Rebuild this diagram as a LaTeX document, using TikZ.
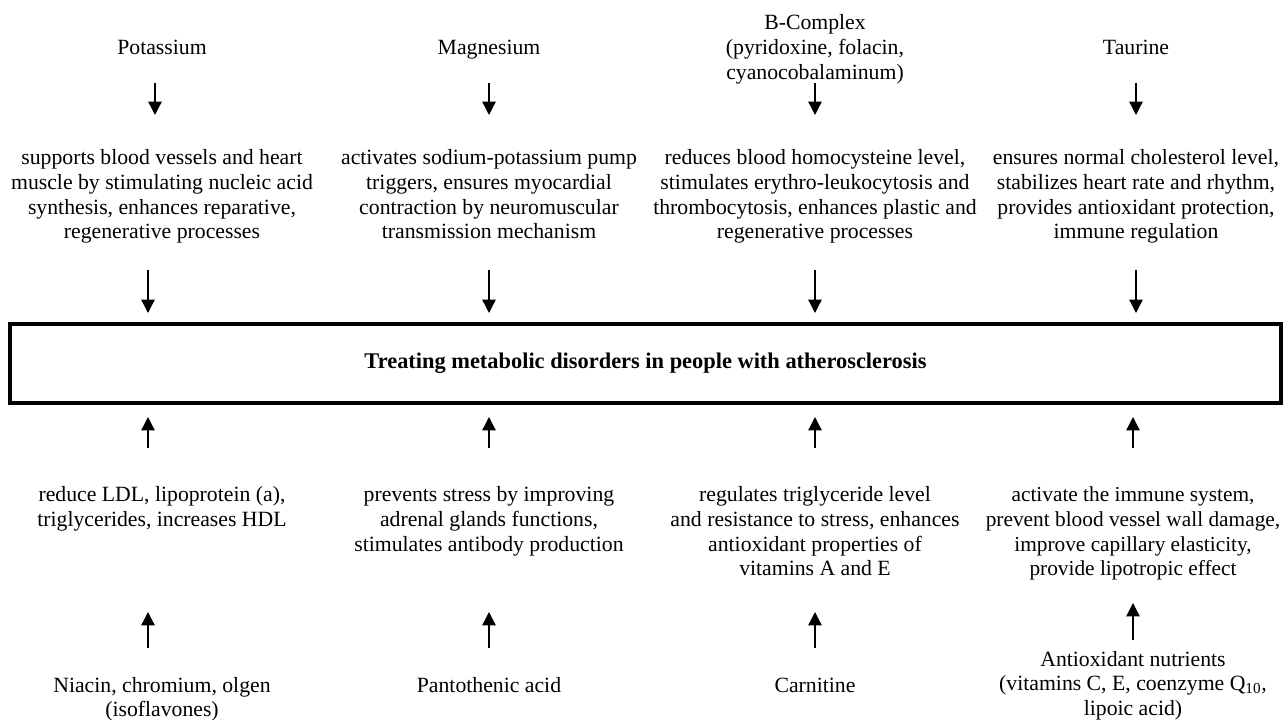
\documentclass[tikz,border=0pt]{standalone}
\usepackage{fontspec}
\setmainfont{Liberation Serif}
\usetikzlibrary{arrows.meta}

\tikzset{
  txt/.style={inner sep=0pt, outer sep=0pt, align=flush center, font=\fontsize{16.3}{18.4}\selectfont},
  para/.style={txt, text width=255pt},
  source/.style={para, anchor=south, text height=20pt, text depth=21pt},
  effect/.style={para, anchor=north, text height=37.5pt, text depth=78.75pt},
  benefit/.style={para, anchor=north, text height=40.5pt, text depth=82.5pt},
  nutrient/.style={para, anchor=north, text height=33pt, text depth=30pt},
  arr/.style={-{Triangle[width=10pt,length=10pt]}, line width=1pt},
}

\begin{document}
\begin{tikzpicture}[x=0.75pt, y=-0.75pt]
    \useasboundingbox (0,0) rectangle (1283,720);

    % upper sources
    \node[source] (kal) at (162,83) {Potassium};
    \node[source] (mag) at (489,83) {Magnesium};
    \node[source, text depth=39.75pt] (bcx) at (815,83) {B-Complex\\(pyridoxine, folacin,\\cyanocobalaminum)};
    \node[source] (tau) at (1136,83) {Taurine};

    % what they do
    \node[effect] (kalfx) at (162,115) {supports blood vessels and heart\\muscle by stimulating nucleic acid\\synthesis, enhances reparative,\\regenerative processes};
    \node[effect] (magfx) at (489,115) {activates sodium-potassium pump\\triggers, ensures myocardial\\contraction by neuromuscular\\transmission mechanism};
    \node[effect] (bcxfx) at (815,115) {reduces blood homocysteine level,\\stimulates erythro-leukocytosis and\\thrombocytosis, enhances plastic and\\regenerative processes};
    \node[effect] (taufx) at (1136,115) {ensures normal cholesterol level,\\stabilizes heart rate and rhythm,\\provides antioxidant protection,\\immune regulation};

    % the goal in the middle
    \node[draw, line width=3pt, inner sep=0pt, minimum width=953.25pt, minimum height=59.25pt,
          font=\fontsize{16.8}{18.4}\selectfont\bfseries] (goal) at (645.5,363.5)
          {Treating metabolic disorders in people with atherosclerosis};

    % lower effects
    \node[benefit] (ldl) at (162,448) {reduce LDL, lipoprotein (a),\\triglycerides, increases HDL};
    \node[benefit] (str) at (489,448) {prevents stress by improving\\adrenal glands functions,\\stimulates antibody production};
    \node[benefit] (tgl) at (815,448) {regulates triglyceride level\\and resistance to stress, enhances\\antioxidant properties of\\vitamins A and E};
    \node[benefit, text depth=75.75pt, font=\fontsize{16}{18.4}\selectfont] (imm) at (1133,448) {activate the immune system,\\prevent blood vessel wall damage,\\improve capillary elasticity,\\provide lipotropic effect};

    % lower sources
    \node[nutrient] (nia) at (162,648) {Niacin, chromium, olgen\\(isoflavones)};
    \node[nutrient] (pan) at (489,648) {Pantothenic acid};
    \node[nutrient] (car) at (815,648) {Carnitine};
    \node[nutrient, text height=19.5pt] (aox) at (1133,640) {Antioxidant nutrients\\(vitamins C, E, coenzyme Q\textsubscript{10},\\lipoic acid)};

    % arrows down
    \draw[arr] ([xshift=-5.25pt]kal.south) -- ([xshift=-5.25pt]kalfx.north);
    \draw[arr] (mag.south) -- (magfx.north);
    \draw[arr] (bcx.south) -- (bcxfx.north);
    \draw[arr] (tau.south) -- (taufx.north);

    \draw[arr, shorten >=6.75pt] ([xshift=-10.5pt]kalfx.south) -- ([xshift=-10.5pt]kalfx.south |- goal.north);
    \draw[arr, shorten >=6.75pt] (magfx.south) -- (magfx.south |- goal.north);
    \draw[arr, shorten >=6.75pt] (bcxfx.south) -- (bcxfx.south |- goal.north);
    \draw[arr, shorten >=6.75pt] (taufx.south) -- (taufx.south |- goal.north);

    % arrows up
    \draw[arr, shorten >=9pt] ([xshift=-10.5pt]ldl.north) -- ([xshift=-10.5pt]ldl.north |- goal.south);
    \draw[arr, shorten >=9pt] (str.north) -- (str.north |- goal.south);
    \draw[arr, shorten >=9pt] (tgl.north) -- (tgl.north |- goal.south);
    \draw[arr, shorten >=9pt] (imm.north) -- (imm.north |- goal.south);

    \draw[arr] ([xshift=-10.5pt]nia.north) -- ([xshift=-10.5pt]ldl.south);
    \draw[arr] (pan.north) -- (str.south);
    \draw[arr] (car.north) -- (tgl.south);
    \draw[arr] (aox.north) -- (imm.south);
\end{tikzpicture}
\end{document}
